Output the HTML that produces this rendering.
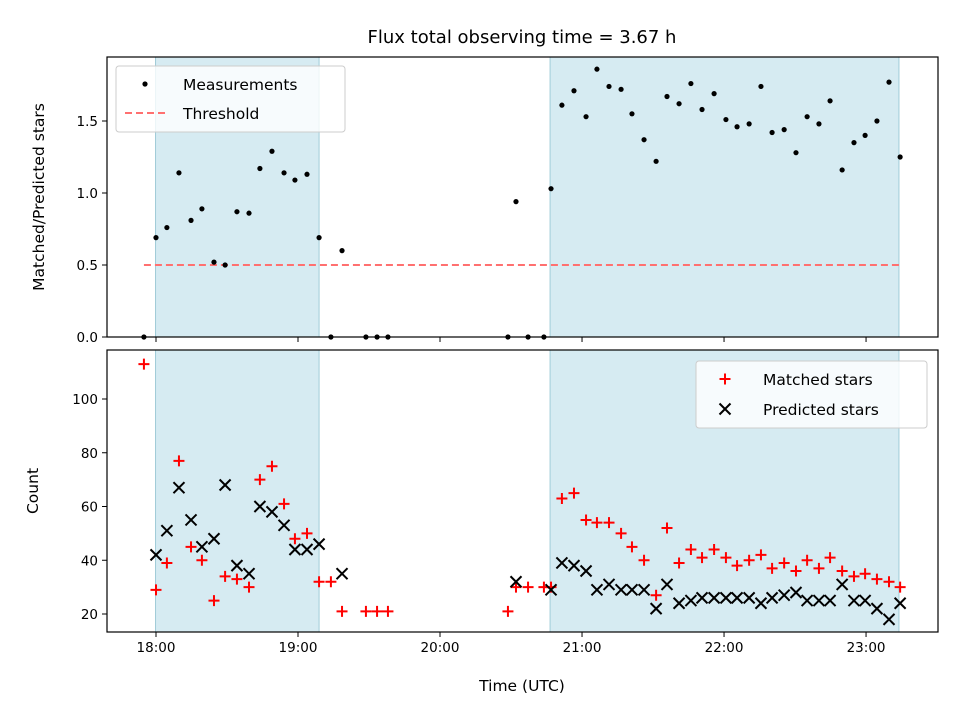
<!DOCTYPE html>
<html><head><meta charset="utf-8"><style>
body{margin:0;background:#fff}
svg text{font-family:"DejaVu Sans","Liberation Sans",sans-serif;fill:#000}
</style></head><body>
<svg id="chart" width="960" height="720" xmlns="http://www.w3.org/2000/svg">
<text x="522" y="43" font-size="18" text-anchor="middle">Flux total observing time = 3.67 h</text>
<g id="top"></g>
<g id="bot"></g>
<text transform="translate(44,197) rotate(-90)" font-size="15.5" text-anchor="middle">Matched/Predicted stars</text>
<text transform="translate(38,491) rotate(-90)" font-size="15.5" text-anchor="middle">Count</text>
<text x="522" y="691" font-size="15.5" text-anchor="middle">Time (UTC)</text>
</svg>
<script>
// minutes after 18:00
const times=[-5.1,0,4.6,9.7,14.8,19.4,24.5,29.2,34.2,39.3,43.9,49,54.1,58.7,63.8,68.9,73.9,78.6,88.7,93.4,98,148.7,152.1,157.2,163.9,166.9,171.5,176.6,181.7,186.3,191.4,196.5,201.1,206.2,211.3,215.9,221,226,230.7,235.8,240.8,245.5,250.6,255.6,260.3,265.4,270.4,275.1,280.1,284.8,289.9,294.9,299.6,304.6,309.7,314.4];
const ratio=[0,.69,.76,1.14,.81,.89,.52,.50,.87,.86,1.17,1.29,1.14,1.09,1.13,.69,0,.60,0,0,0,0,.94,0,0,1.03,1.61,1.71,1.53,1.86,1.74,1.72,1.55,1.37,1.22,1.67,1.62,1.76,1.58,1.69,1.51,1.46,1.48,1.74,1.42,1.44,1.28,1.53,1.48,1.64,1.16,1.35,1.40,1.50,1.77,1.25];
const matched=[113,29,39,77,45,40,25,34,33,30,70,75,61,48,50,32,32,21,21,21,21,21,30,30,30,30,63,65,55,54,54,50,45,40,27,52,39,44,41,44,41,38,40,42,37,39,36,40,37,41,36,34,35,33,32,30];
const predicted=[null,42,51,67,55,45,48,68,38,35,60,58,53,44,44,46,null,35,null,null,null,null,32,null,null,29,39,38,36,29,31,29,29,29,22,31,24,25,26,26,26,26,26,24,26,27,28,25,25,25,31,25,25,22,18,24];
const threshold=0.5;
const spans=[[-0.2,68.9],[166.5,313.9]];
const xTicks=[0,60,120,180,240,300];
const xTickLabels=["18:00","19:00","20:00","21:00","22:00","23:00"];
const topTicks=[0,0.5,1,1.5];
const topTickLabels=["0.0","0.5","1.0","1.5"];
const botTicks=[20,40,60,80,100];

const NS="http://www.w3.org/2000/svg";
const L=107,R=938;
const xMin=-20.7,xMax=330.4;
const x=t=>L+(t-xMin)/(xMax-xMin)*(R-L);
const yT=v=>337-v*144;
const yB=v=>614-(v-20)*2.6875;
function mk(p,tag,a){const e=document.createElementNS(NS,tag);for(const k in a)e.setAttribute(k,a[k]);p.appendChild(e);return e;}
function panel(g,top,bot,ticks,labels,yf,showX){
  spans.forEach((s,i)=>{const r=mk(g,'rect',{x:x(s[0]),y:top,width:x(s[1])-x(s[0]),height:bot-top,fill:'#add8e6','fill-opacity':0.5,stroke:'#a0ccd8','stroke-width':1});
    
    });
  ticks.forEach((v,i)=>{const y=yf(v);mk(g,'line',{x1:L-5,x2:L,y1:y,y2:y,stroke:'#000'});
    const t=mk(g,'text',{x:L-9,y:y+5,'font-size':13.5,'text-anchor':'end'});t.textContent=labels[i];
    
    });
  xTicks.forEach((v,i)=>{mk(g,'line',{x1:x(v),x2:x(v),y1:bot,y2:bot+5,stroke:'#000'});
    if(showX){const t=mk(g,'text',{x:x(v),y:bot+20,'font-size':13.5,'text-anchor':'middle'});t.textContent=xTickLabels[i];
    
    }});
}
const gT=document.getElementById('top'),gB=document.getElementById('bot');
panel(gT,57,337,topTicks,topTickLabels,yT,false);
const th=mk(gT,'line',{x1:x(times[0]),x2:x(times[times.length-1]),y1:yT(threshold),y2:yT(threshold),stroke:'#ff7070','stroke-width':2,'stroke-dasharray':'7,4'});


times.forEach((t,i)=>{const c=mk(gT,'circle',{cx:x(t),cy:yT(ratio[i]),r:2.6,fill:'#000'});
  
  });
mk(gT,'rect',{x:L,y:57,width:R-L,height:280,fill:'none',stroke:'#000','stroke-width':1.2});
const lg=mk(gT,'g',{});


mk(lg,'rect',{x:116,y:66,width:229,height:66,rx:3,fill:'#fff','fill-opacity':0.8,stroke:'#ccc'});
mk(lg,'circle',{cx:145,cy:84,r:2.6,fill:'#000'});
mk(lg,'line',{x1:125,x2:165,y1:113,y2:113,stroke:'#ff7070','stroke-width':2,'stroke-dasharray':'7,4'});
let t1=mk(lg,'text',{x:183,y:90,'font-size':15.5});t1.textContent='Measurements';
let t2=mk(lg,'text',{x:183,y:119,'font-size':15.5});t2.textContent='Threshold';

panel(gB,350,632,botTicks,botTicks.map(String),yB,true);
function plus(g,cx,cy){return mk(g,'path',{d:`M${cx-5.5},${cy}h11M${cx},${cy-5.5}v11`,stroke:'#f00','stroke-width':2});}
function cross(g,cx,cy){return mk(g,'path',{d:`M${cx-5.5},${cy-5.5}l11,11M${cx-5.5},${cy+5.5}l11,-11`,stroke:'#000','stroke-width':2});}
times.forEach((t,i)=>{if(matched[i]!=null){const p=plus(gB,x(t),yB(matched[i]));
  
  }});
times.forEach((t,i)=>{if(predicted[i]!=null){const p=cross(gB,x(t),yB(predicted[i]));
  
  }});
mk(gB,'rect',{x:L,y:350,width:R-L,height:282,fill:'none',stroke:'#000','stroke-width':1.2});
const lb=mk(gB,'g',{});


mk(lb,'rect',{x:696,y:361,width:231,height:67,rx:3,fill:'#fff','fill-opacity':0.8,stroke:'#ccc'});
plus(lb,725,379);cross(lb,725,409);
let t3=mk(lb,'text',{x:763,y:385,'font-size':15.5});t3.textContent='Matched stars';
let t4=mk(lb,'text',{x:763,y:415,'font-size':15.5});t4.textContent='Predicted stars';
</script>
</body></html>
